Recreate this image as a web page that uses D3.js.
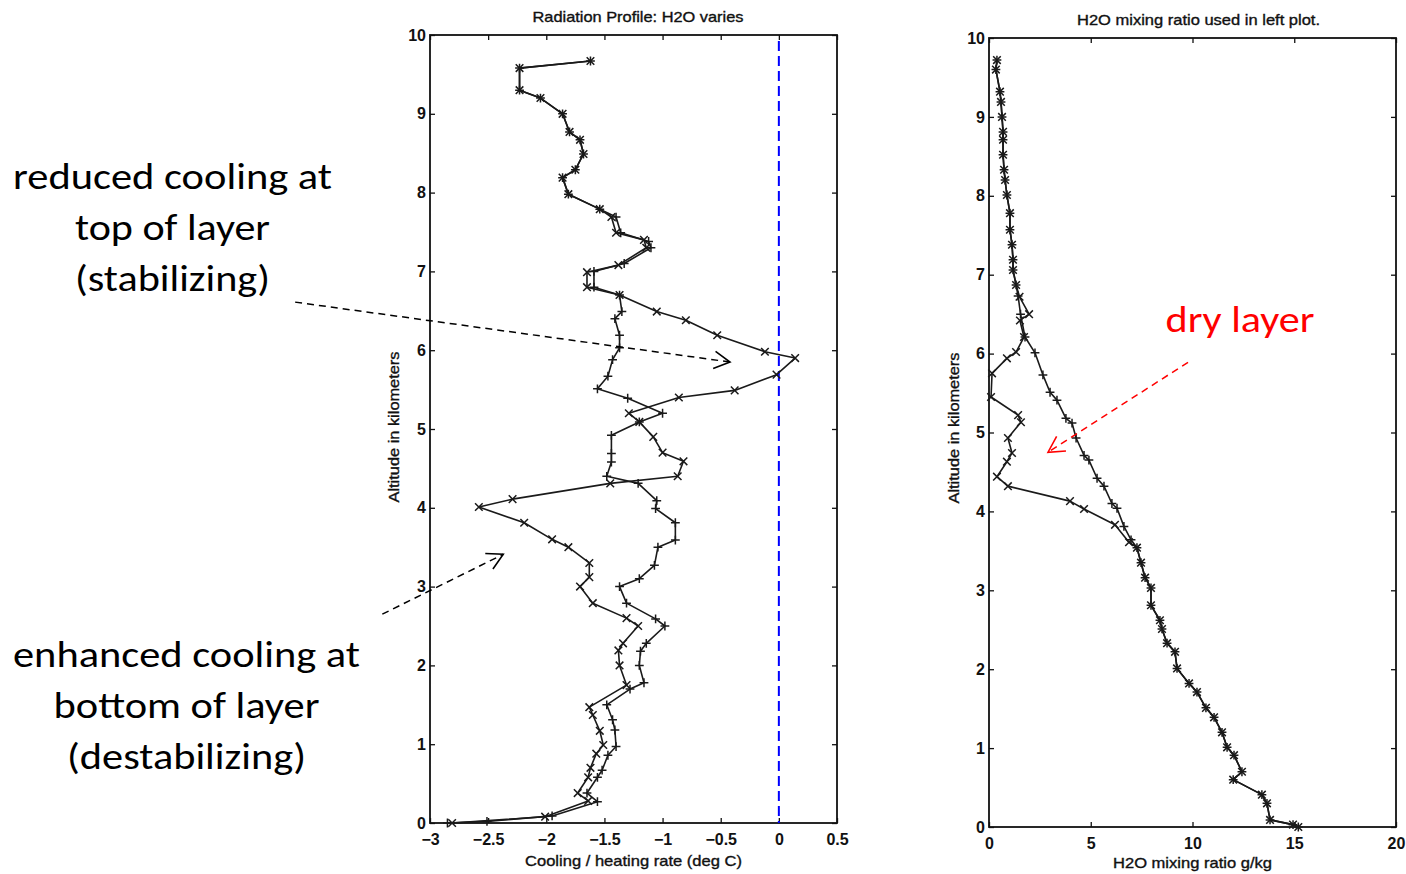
<!DOCTYPE html>
<html><head><meta charset="utf-8">
<script src="https://cdn.jsdelivr.net/npm/d3@7"></script>
<style>body{margin:0;background:#fff} svg{display:block}</style>
</head><body>
<svg id="c" width="1406" height="874"></svg>
<script>
// ---------- DATA ----------
const heatTicks = [-3, -2.5, -2, -1.5, -1, -0.5, 0, 0.5];
const altTicks = [0, 1, 2, 3, 4, 5, 6, 7, 8, 9, 10];
const h2oTicks = [0, 5, 10, 15, 20];

// [rate (deg C), altitude (km)]
const heatControl = [
  [-1.62,9.67],[-2.23,9.58],[-2.23,9.30],[-2.05,9.20],[-1.86,9.00],[-1.80,8.77],[-1.71,8.67],
  [-1.68,8.49],[-1.75,8.29],[-1.86,8.19],[-1.81,7.98],[-1.54,7.79],[-1.40,7.69],[-1.36,7.49],
  [-1.12,7.38],[-1.10,7.30],[-1.33,7.10],[-1.59,7.00],[-1.59,6.80],[-1.37,6.70],[-1.35,6.49],
  [-1.41,6.40],[-1.37,6.19],[-1.37,6.03],[-1.43,5.88],[-1.47,5.67],[-1.56,5.51],[-1.30,5.39],
  [-1.00,5.20],[-1.20,5.09],[-1.44,4.92],[-1.44,4.69],[-1.44,4.58],[-1.48,4.40],[-1.21,4.31],
  [-1.05,4.09],[-1.06,3.99],[-0.89,3.81],[-0.89,3.59],[-1.04,3.50],[-1.07,3.27],[-1.20,3.10],
  [-1.37,3.00],[-1.31,2.79],[-1.06,2.59],[-0.98,2.50],[-1.14,2.28],[-1.19,2.18],[-1.20,2.00],
  [-1.16,1.78],[-1.28,1.70],[-1.48,1.50],[-1.43,1.31],[-1.41,1.18],[-1.40,0.97],[-1.47,0.86],
  [-1.52,0.67],[-1.56,0.58],[-1.65,0.38],[-1.56,0.27],[-1.95,0.09],[-2.51,0.02],[-2.85,0.00]
];
const heatDry = [
  [-1.62,9.67],[-2.23,9.58],[-2.23,9.30],[-2.05,9.20],[-1.86,9.00],[-1.80,8.77],[-1.71,8.67],
  [-1.68,8.49],[-1.75,8.29],[-1.86,8.19],[-1.81,7.98],[-1.54,7.79],[-1.44,7.69],[-1.40,7.49],
  [-1.16,7.40],[-1.14,7.30],[-1.38,7.08],[-1.65,6.99],[-1.65,6.80],[-1.37,6.70],[-1.05,6.49],
  [-0.80,6.38],[-0.53,6.19],[-0.12,5.98],[0.14,5.90],[-0.02,5.69],[-0.38,5.49],[-0.86,5.40],
  [-1.29,5.20],[-1.20,5.09],[-1.08,4.90],[-1.00,4.70],[-0.82,4.59],[-0.87,4.40],[-1.45,4.31],
  [-2.29,4.11],[-2.58,4.01],[-2.19,3.81],[-1.95,3.60],[-1.81,3.50],[-1.63,3.30],[-1.63,3.12],
  [-1.71,3.00],[-1.60,2.79],[-1.31,2.60],[-1.21,2.50],[-1.34,2.28],[-1.38,2.19],[-1.37,2.00],
  [-1.31,1.75],[-1.63,1.47],[-1.60,1.37],[-1.54,1.17],[-1.51,0.99],[-1.57,0.88],[-1.62,0.70],
  [-1.64,0.58],[-1.73,0.38],[-1.64,0.28],[-2.01,0.08],[-2.81,0.00]
];

// [mixing ratio (g/kg), altitude (km)]
const h2oControl = [
  [0.39,9.72],[0.34,9.60],[0.54,9.32],[0.59,9.19],[0.64,9.00],[0.69,8.81],[0.69,8.71],[0.69,8.52],
  [0.74,8.33],[0.79,8.20],[0.88,8.01],[1.03,7.78],[1.03,7.57],[1.13,7.38],[1.18,7.19],[1.18,7.06],
  [1.33,6.87],[1.43,6.73],[1.55,6.50],[1.77,6.21],[2.26,6.01],[2.65,5.73],[3.00,5.51],[3.34,5.41],
  [3.78,5.18],[4.08,5.12],[4.28,4.93],[4.67,4.71],[4.91,4.65],[5.31,4.42],[5.65,4.32],[6.04,4.10],
  [6.29,4.04],[6.63,3.81],[6.98,3.64],[7.27,3.54],[7.47,3.35],[7.67,3.16],[7.96,3.03],[7.96,2.81],
  [8.40,2.62],[8.50,2.51],[8.75,2.33],[9.14,2.22],[9.24,2.01],[9.83,1.82],[10.22,1.71],[10.66,1.51],
  [11.06,1.39],[11.45,1.20],[11.70,1.01],[12.04,0.91],[12.43,0.70],[12.00,0.60],[13.41,0.41],
  [13.66,0.30],[13.81,0.09],[14.94,0.03],[15.20,0.00]
];
const h2oDry = [
  [0.39,9.72],[0.34,9.60],[0.54,9.32],[0.59,9.19],[0.64,9.00],[0.69,8.81],[0.69,8.71],[0.69,8.52],
  [0.74,8.33],[0.79,8.20],[0.88,8.01],[1.03,7.78],[1.03,7.57],[1.13,7.38],[1.18,7.19],[1.18,7.06],
  [1.33,6.87],[1.50,6.72],[1.97,6.50],[1.52,6.42],[1.72,6.21],[1.33,6.02],[0.88,5.94],[0.15,5.75],
  [0.10,5.45],[1.43,5.22],[1.57,5.13],[0.93,4.93],[1.13,4.74],[0.88,4.63],[0.39,4.44],[0.93,4.32],
  [3.98,4.13],[4.67,4.03],[6.19,3.83],[6.88,3.61],[7.27,3.54],[7.47,3.35],[7.67,3.16],[7.96,3.03],
  [7.96,2.81],[8.40,2.62],[8.50,2.51],[8.75,2.33],[9.14,2.22],[9.24,2.01],[9.83,1.82],[10.22,1.71],
  [10.66,1.51],[11.06,1.39],[11.45,1.20],[11.70,1.01],[12.04,0.91],[12.43,0.70],[12.00,0.60],
  [13.41,0.41],[13.66,0.30],[13.81,0.09],[14.94,0.03],[15.20,0.00]
];

const titles = ["Radiation Profile: H2O varies", "H2O mixing ratio used in left plot."];
const xLabels = ["Cooling / heating rate (deg C)", "H2O mixing ratio g/kg"];
const yLabel = "Altitude in kilometers";
const noteTop = ["reduced cooling at", "top of layer", "(stabilizing)"];
const noteBottom = ["enhanced cooling at", "bottom of layer", "(destabilizing)"];
const noteDry = "dry layer";

// ---------- DRAW ----------
const svg = d3.select("#c");
const tickFont = "'Liberation Sans', Arial, Helvetica, sans-serif";
const noteFont = "Carlito, Calibri, Lato, 'Open Sans', sans-serif";
const fmt = d3.format("~g");
const ink = "#111";

function panel(o) {
  const x = d3.scaleLinear().domain(o.xDomain).range([o.left, o.right]);
  const y = d3.scaleLinear().domain([0, 10]).range([o.bottom, o.top]);
  const g = svg.append("g");

  const styleAxis = sel => {
    sel.select(".domain").remove();
    sel.selectAll(".tick line").attr("stroke", ink).attr("stroke-width", 1.3);
    sel.selectAll("text").attr("font-family", tickFont).attr("font-size", 16)
       .attr("font-weight", "bold").attr("fill", ink);
  };
  g.append("g").attr("transform", `translate(0,${o.bottom})`)
    .call(d3.axisBottom(x).tickValues(o.xTicks).tickSize(-5).tickPadding(11).tickFormat(fmt))
    .call(styleAxis);
  g.append("g").attr("transform", `translate(0,${o.top})`)
    .call(d3.axisTop(x).tickValues(o.xTicks).tickSize(-5).tickFormat(""))
    .call(styleAxis);
  g.append("g").attr("transform", `translate(${o.left},0)`)
    .call(d3.axisLeft(y).tickValues(altTicks).tickSize(-5).tickPadding(4).tickFormat(fmt))
    .call(styleAxis);
  g.append("g").attr("transform", `translate(${o.right},0)`)
    .call(d3.axisRight(y).tickValues(altTicks).tickSize(-5).tickFormat(""))
    .call(styleAxis);

  g.append("rect").attr("x", o.left).attr("y", o.top)
    .attr("width", o.right - o.left).attr("height", o.bottom - o.top)
    .attr("fill", "none").attr("stroke", ink).attr("stroke-width", 1.8);

  const label = (sel, w) => sel.attr("font-family", tickFont).attr("font-size", 14.5)
    .attr("fill", ink).attr("stroke", ink).attr("stroke-width", 0.35)
    .attr("textLength", w).attr("lengthAdjust", "spacingAndGlyphs");
  g.append("text").attr("x", (o.left + o.right) / 2 + o.titleDx).attr("y", o.titleY)
    .attr("text-anchor", "middle").call(label, o.titleW).text(o.title);
  g.append("text").attr("x", (o.left + o.right) / 2 + o.xlabDx).attr("y", o.xlabY)
    .attr("text-anchor", "middle").call(label, o.xlabW).text(o.xlab);
  g.append("text").attr("transform", `translate(${o.ylabX},${o.ylabY}) rotate(-90)`)
    .attr("text-anchor", "middle").call(label, 151).text(yLabel);

  if (o.zeroLine) {
    g.append("line").attr("x1", x(0)).attr("x2", x(0)).attr("y1", o.top + 6).attr("y2", o.bottom)
      .attr("stroke", "#0000ff").attr("stroke-width", 2).attr("stroke-dasharray", "10,5");
  }
  return {x, y};
}

const xs = 3.8, ps = 4.4;
const markX = `M${-xs},${-xs}L${xs},${xs}M${-xs},${xs}L${xs},${-xs}`;
const markP = `M${-ps},0L${ps},0M0,${-ps}L0,${ps}`;

function drawSeries(P, data, mark) {
  const line = d3.line().x(d => P.x(d[0])).y(d => P.y(d[1]));
  svg.append("path").datum(data).attr("d", line).attr("fill", "none")
    .attr("stroke", "#1a1a1a").attr("stroke-width", 1.6).attr("stroke-linejoin", "round");
  svg.append("g").selectAll("path").data(data).join("path")
    .attr("transform", d => `translate(${P.x(d[0])},${P.y(d[1])})`)
    .attr("d", mark).attr("fill", "none").attr("stroke", "#1a1a1a").attr("stroke-width", 1.5);
}

const L = panel({
  xDomain: [-3, 0.5], xTicks: heatTicks, left: 430, right: 837, top: 35, bottom: 823,
  title: titles[0], titleY: 22, titleW: 211, titleDx: 4.5,
  xlab: xLabels[0], xlabY: 866, xlabW: 217, xlabDx: 0,
  ylabX: 399, ylabY: 427, zeroLine: true
});
drawSeries(L, heatControl, markP);
drawSeries(L, heatDry, markX);

const R = panel({
  xDomain: [0, 20], xTicks: h2oTicks, left: 989, right: 1396, top: 38, bottom: 827,
  title: titles[1], titleY: 25, titleW: 243, titleDx: 6,
  xlab: xLabels[1], xlabY: 868, xlabW: 159, xlabDx: 0,
  ylabX: 959, ylabY: 428, zeroLine: false
});
drawSeries(R, h2oControl, markP);
drawSeries(R, h2oDry, markX);

// ---------- ANNOTATIONS ----------
function arrow(x1, y1, x2, y2, color) {
  svg.append("line").attr("x1", x1).attr("y1", y1).attr("x2", x2).attr("y2", y2)
    .attr("stroke", color).attr("stroke-width", 1.5).attr("stroke-dasharray", "7,5");
  const a = Math.atan2(y2 - y1, x2 - x1), len = 18, sp = 0.5;
  const p = [[x2 - len * Math.cos(a - sp), y2 - len * Math.sin(a - sp)], [x2, y2],
             [x2 - len * Math.cos(a + sp), y2 - len * Math.sin(a + sp)]];
  svg.append("path").attr("d", d3.line()(p)).attr("fill", "none")
    .attr("stroke", color).attr("stroke-width", 1.6);
}
// arrow ends given in data coordinates of the panels
arrow(L.x(-4.16), L.y(6.61), L.x(-0.42), L.y(5.85), "#000");
arrow(L.x(-3.41), L.y(2.65), L.x(-2.37), L.y(3.41), "#000");
arrow(R.x(9.78), R.y(5.89), R.x(2.90), R.y(4.75), "#ff0000");

function note(lines, cx, y0, widths) {
  lines.forEach((t, i) => {
    svg.append("text").attr("x", cx).attr("y", y0 + i * 51).attr("text-anchor", "middle")
      .attr("font-family", noteFont).attr("font-size", 36).attr("fill", "#000")
      .attr("textLength", widths[i]).attr("lengthAdjust", "spacingAndGlyphs").text(t);
  });
}
note(noteTop, 172.5, 189, [319, 195, 195]);
note(noteBottom, 186.5, 667, [347, 266, 239]);
svg.append("text").attr("x", 1240).attr("y", 332).attr("text-anchor", "middle")
  .attr("font-family", noteFont).attr("font-size", 36).attr("fill", "#ff0000")
  .attr("textLength", 149).attr("lengthAdjust", "spacingAndGlyphs").text(noteDry);
</script>
</body></html>
